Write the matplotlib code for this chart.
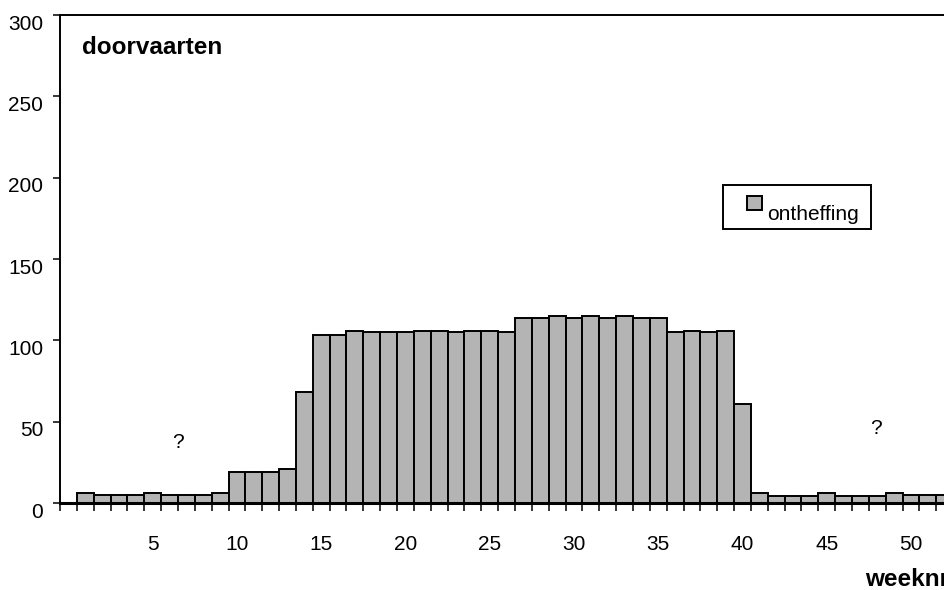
import matplotlib.pyplot as plt
import matplotlib.transforms as mtransforms
from matplotlib.patches import Rectangle
from matplotlib.legend_handler import HandlerPatch
from matplotlib.ticker import FixedLocator

# weekly counts of passages ("doorvaarten") with exemption
weeks = list(range(1, 53))
ontheffing = [6, 5, 5, 5, 6, 5, 5, 5, 6, 19,
              19, 19, 21, 68, 103, 103, 106, 105, 105, 105,
              106, 106, 105, 106, 106, 105, 114, 114, 115, 114,
              115, 114, 115, 114, 114, 105, 106, 105, 106, 61,
              6, 4, 4, 4, 6, 4, 4, 4, 6, 5,
              5, 5]
week_ticks = [5, 10, 15, 20, 25, 30, 35, 40, 45, 50]
y_ticks = [0, 50, 100, 150, 200, 250, 300]
unknown_marks = [(6.5, 37), (47.9, 46)]  # "?" annotations

plt.rcParams['font.family'] = ['Liberation Sans', 'DejaVu Sans']

fig = plt.figure(figsize=(9.44, 5.90), dpi=100)
ax = fig.add_axes([60 / 944, 1 - 503 / 590, 910 / 944, 488 / 590])

bars = ax.bar(weeks, ontheffing, width=1.0, color='#b4b4b4',
              edgecolor='black', linewidth=1.4, zorder=2)

ax.set_xlim(-0.5, 53.5)
ax.set_ylim(0, 300)

# category boundaries as tick marks, labels every 5 weeks without marks
ax.set_xticks(week_ticks)
ax.set_xticklabels([str(w) for w in week_ticks])
ax.xaxis.set_minor_locator(FixedLocator([w - 0.5 for w in range(0, 55)]))
ax.tick_params(axis='x', which='major', length=0, pad=23, labelsize=15)
ax.tick_params(axis='x', which='minor', length=6, width=1.1, direction='out')

ax.set_yticks(y_ticks)
ax.tick_params(axis='y', which='major', length=5, width=1.1, direction='out',
               pad=7, labelsize=15)
offset = mtransforms.ScaledTranslation(0, -0.07, fig.dpi_scale_trans)
for lbl in ax.get_yticklabels():
    lbl.set_transform(lbl.get_transform() + offset)

for side in ['left', 'top', 'right']:
    ax.spines[side].set_linewidth(1.4)
ax.spines['bottom'].set_linewidth(2.2)
ax.spines['bottom'].set_zorder(3)

for x, y in unknown_marks:
    ax.text(x, y, '?', fontsize=15, ha='center', va='center')

fig.text(82 / 944, 1 - 48 / 590, 'doorvaarten', fontsize=17.5,
         fontweight='bold', ha='left', va='center')
fig.text(865 / 944, 1 - 580 / 590, 'weeknr', fontsize=17.5,
         fontweight='bold', ha='left', va='center')


# small square key, sitting at the right end of a wider handle box
def small_square(legend, orig_handle, xdescent, ydescent, width, height, fontsize):
    s = 0.68 * fontsize
    return Rectangle((-xdescent + width - s, -ydescent + (height - s) / 2 + 2), s, s)


key = bars.patches[0]
leg = ax.legend(handles=[key], labels=['ontheffing'], loc='center',
                bbox_to_anchor=(797 / 944, 1 - 207.5 / 590),
                bbox_transform=fig.transFigure, fontsize=15,
                frameon=True, fancybox=False, framealpha=1,
                edgecolor='black', handlelength=1.25, handleheight=0.7,
                handletextpad=0.25, borderpad=0.6,
                handler_map={key: HandlerPatch(patch_func=small_square)})
leg.get_frame().set_linewidth(1.4)
txt_shift = mtransforms.ScaledTranslation(0, -0.07, fig.dpi_scale_trans)
for t in leg.get_texts():
    t.set_transform(t.get_transform() + txt_shift)

fig.savefig('out.png', dpi=100)
